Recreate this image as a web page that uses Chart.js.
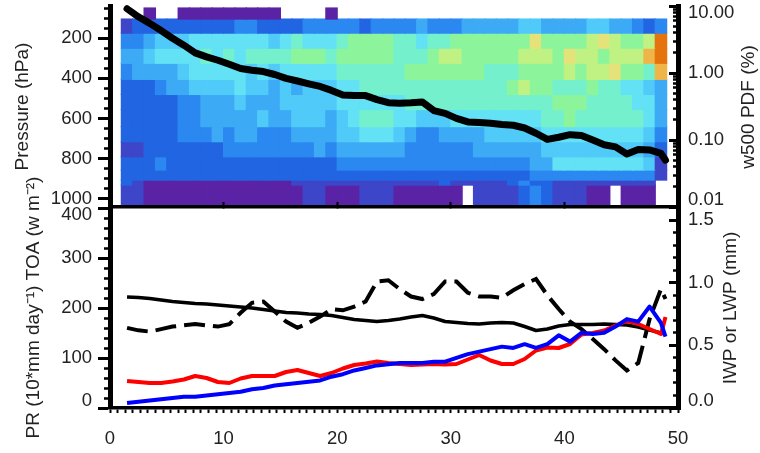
<!DOCTYPE html>
<html>
<head>
<meta charset="utf-8">
<script src="https://cdn.jsdelivr.net/npm/chart.js@4"></script>
<style>
html,body{margin:0;padding:0;background:#fff;}
#wrap{position:relative;width:760px;height:453px;background:#fff;}
canvas{position:absolute;left:0;top:0;}
</style>
</head>
<body>
<div id="wrap">
<canvas id="topChart" width="760" height="453"></canvas>
<canvas id="botChart" width="760" height="453"></canvas>
</div>
<script>
// ---------- data ----------
const colCenters = [1.5,2.5,3.5,4.5,5.5,6.5,7.5,8.5,9.5,10.5,11.5,12.5,13.5,14.5,15.5,16.5,17.5,18.5,19.5,20.5,21.5,22.5,23.5,24.5,25.5,26.5,27.5,28.5,29.5,30.5,31.5,32.5,33.5,34.5,35.5,36.5,37.5,38.5,39.5,40.5,41.5,42.5,43.5,44.5,45.5,46.5,47.5,48.5];
const pressureEdges = [50,105,175,250,325,405,480,555,640,715,790,856,906,931,1035];
// colour class of each cell (one string per pressure layer, one char per column; '.' = no data)
const heatRows = [
  "..0..000000000....0...." + ".........................",
  "12222222223322223333323" + "3334333444445544445544323",
  "33455566666665676667888" + "8776778888888A88889A9889C",
  "44566667676777788878888" + "8777899888889998A998999BC",
  "34444566666565666667777" + "77888888877788889899A887B",
  "22234455556554545556677" + "7777777777789887778776654",
  "22222334445444555556666" + "6677777777777778887777664",
  "22222334444454455545677" + "7665556666666677877777764",
  "22222333434433344445566" + "6543344445555566666666653",
  "11222222233333333434444" + "4433333344444455555555542",
  "22232222222222222223333" + "3333333333333446666666651",
  "22222222222222222222222" + "2222222222222333333333331",
  "21000000000000011111111" + "111112111112322111111111.",
  "11000000000000001100011" + "1000000.111123211100.000."
];
const lineX = [1.5,2.5,3.5,4.5,5.5,6.5,7.5,8.5,9.5,10.5,11.5,12.5,13.5,14.5,15.5,16.5,17.5,18.5,19.5,20.5,21.5,22.5,23.5,24.5,25.5,26.5,27.5,28.5,29.5,30.5,31.5,32.5,33.5,34.5,35.5,36.5,37.5,38.5,39.5,40.5,41.5,42.5,43.5,44.5,45.5,46.5,47.5,48.5,48.9];
const w500Pdf = [9.1,6.9,5.5,4.3,3.3,2.6,2.0,1.74,1.55,1.35,1.17,1.10,1.05,0.95,0.83,0.76,0.69,0.63,0.55,0.47,0.46,0.46,0.40,0.36,0.355,0.36,0.37,0.275,0.25,0.21,0.186,0.182,0.178,0.170,0.166,0.151,0.126,0.102,0.11,0.12,0.117,0.10,0.085,0.079,0.062,0.072,0.071,0.063,0.05];
const toaFlux = [222,221,219,216,213,211,209,208,206,204,202,200,197,194,191,190,188,187,185,181,177,175,173,175,178,182,185,180,173,171,169,168,170,171,170,163,155,158,164,167,167,167,168,167,166,162,156,150,148];
const lwpMm = [0.64,0.62,0.61,0.63,0.65,0.66,0.67,0.66,0.65,0.67,0.76,0.84,0.85,0.77,0.69,0.64,0.68,0.73,0.79,0.78,0.81,0.85,1.01,1.02,0.95,0.89,0.87,0.91,1.01,1.01,0.92,0.89,0.89,0.88,0.94,0.99,1.03,0.90,0.79,0.69,0.63,0.55,0.47,0.38,0.30,0.36,0.71,0.95,0.87];
const precip = [54,52,50,50,53,57,64,60,52,50,59,64,64,64,72,76,70,64,70,79,86,89,93,90,88,86,87,88,87,88,97,106,95,88,88,98,115,121,120,128,147,150,155,165,174,168,158,148,182];
const iwpMm = [0.04,0.05,0.06,0.07,0.08,0.09,0.09,0.10,0.11,0.12,0.13,0.15,0.16,0.18,0.19,0.20,0.21,0.22,0.25,0.27,0.30,0.32,0.34,0.35,0.36,0.36,0.36,0.37,0.37,0.40,0.43,0.45,0.47,0.49,0.48,0.51,0.48,0.51,0.58,0.53,0.60,0.59,0.60,0.65,0.71,0.69,0.81,0.68,0.57];

const pressureLabels = [200,400,600,800,1000];
const pdfLabels = [0.01,0.1,1,10];
const fluxLabels = [0,100,200,300,400];
const waterPathLabels = [0,0.5,1.0,1.5];
const xLabels = [0,10,20,30,40,50];

const titlePressure = 'Pressure (hPa)';
const titlePdf = 'w500 PDF (%)';
const titleFlux = 'PR (10*mm day\u207B\u00B9) TOA (w m\u207B\u00B2)';
const titleWater = 'IWP or LWP (mm)';

// ---------- styles ----------
const heatPalette = {
  '0':'#5a23a6','1':'#3d46c8','2':'#2265e2','3':'#2b88f0','4':'#3daaf6',
  '5':'#50caf8','6':'#63e1f5','7':'#74f1cc','8':'#8cf59c','9':'#bff283',
  'A':'#e6e27a','B':'#f0b548','C':'#e5740f'
};
const FAM = '"Liberation Sans", Arial, Helvetica, sans-serif';
const TXT = '#222';
const tickFont = {family: FAM, size: 18.5, lineHeight: 0.76};
const titleFont = {family: FAM, size: 19};
Chart.defaults.font.family = FAM;

const near = (a, b) => Math.abs(a - b) < 1e-6;
const inList = (v, list) => list.some(l => near(v, l));
const tv = ctx => (ctx && ctx.tick) ? ctx.tick.value : NaN;
const noPad = s => { s.paddingTop = 0; s.paddingBottom = 0; s.paddingLeft = 0; s.paddingRight = 0; };

function sideTitle(id, text, x, y) {
  return {
    id,
    afterDraw(chart) {
      const c = chart.ctx;
      c.save();
      c.translate(x, y);
      c.rotate(-Math.PI / 2);
      c.font = titleFont.size + 'px ' + FAM;
      c.fillStyle = TXT;
      c.textAlign = 'center';
      c.textBaseline = 'middle';
      c.fillText(text, 0, 0);
      c.restore();
    }
  };
}

// ---------- top panel ----------
const heatDatasets = heatRows.map((row, r) => {
  const data = [], colors = [];
  for (let c = 0; c < colCenters.length; c++) {
    const k = row[c];
    if (!k || k === '.') continue;
    data.push({x: colCenters[c], y: [pressureEdges[r], pressureEdges[r + 1]]});
    colors.push(heatPalette[k]);
  }
  return {
    type: 'bar', data, backgroundColor: colors, borderWidth: 0,
    xAxisID: 'x', yAxisID: 'yP', grouped: false,
    barPercentage: 1, categoryPercentage: 1, inflateAmount: 0.6, order: 2
  };
});

const pdfDataset = {
  type: 'line',
  data: lineX.map((x, i) => ({x, y: w500Pdf[i]})),
  xAxisID: 'x', yAxisID: 'yPdf',
  borderColor: '#000', borderWidth: 7, pointRadius: 0, tension: 0,
  borderJoinStyle: 'round', borderCapStyle: 'round', clip: false, order: 0
};

new Chart(document.getElementById('topChart'), {
  type: 'bar',
  data: {datasets: [...heatDatasets, pdfDataset]},
  options: {
    responsive: false, animation: false, events: [],
    layout: {padding: {top: 6, bottom: 246, left: 0, right: 0}},
    plugins: {legend: {display: false}, tooltip: {enabled: false}},
    scales: {
      x: {
        type: 'linear', min: 0, max: 50, offset: false, position: 'bottom',
        grid: {display: true, offset: false, drawOnChartArea: false, drawTicks: true, tickLength: -5, tickWidth: 2, tickColor: '#000', z: 1},
        border: {display: true, width: 3.5, color: '#000', z: 1},
        ticks: {display: false, autoSkip: false},
        afterBuildTicks: s => { s.ticks = [10, 20, 30, 40].map(v => ({value: v})); },
        afterFit: s => { s.height = 0; noPad(s); }
      },
      yP: {
        type: 'linear', position: 'left', reverse: true, min: 40, max: 1040,
        grid: {drawOnChartArea: false, drawTicks: true, tickLength: 12, tickColor: '#000', z: 1,
          tickWidth: ctx => inList(tv(ctx), pressureLabels) ? 3 : 2.5,
          tickBorderDash: ctx => inList(tv(ctx), pressureLabels) ? [] : [0, 6, 7, 100]},
        border: {display: true, width: 5, color: '#000', z: 1},
        ticks: {autoSkip: false, padding: 6, color: TXT, font: tickFont,
          callback: v => inList(v, pressureLabels) ? String(v) : ''},
        afterBuildTicks: s => { const t = []; for (let p = 50; p <= 1000; p += 50) t.push({value: p}); s.ticks = t; },
        afterFit: s => { s.width = 110; noPad(s); },
        title: {display: true, text: titlePressure, color: TXT, font: titleFont, padding: {top: 11, bottom: 0}}
      },
      yPdf: {
        type: 'logarithmic', position: 'right', min: 0.01, max: 10,
        grid: {drawOnChartArea: false, drawTicks: true, tickLength: -9, tickColor: '#000', z: 1,
          tickWidth: ctx => inList(tv(ctx), pdfLabels) ? 3 : 2.5,
          tickBorderDash: ctx => inList(tv(ctx), pdfLabels) ? [] : [8, 100]},
        border: {display: true, width: 5, color: '#000', z: 1},
        ticks: {autoSkip: false, padding: 19, color: TXT, font: tickFont,
          callback: v => {
            if (!inList(v, pdfLabels)) return '';
            const s = v.toFixed(2);
            if (near(v, 10)) return ['', s];
            if (near(v, 0.01)) return [s, ''];
            return s;
          }},
        afterBuildTicks: s => {
          const t = [];
          [0.01, 0.1, 1].forEach(d => { for (let m = 1; m <= 9; m++) t.push({value: Number((m * d).toPrecision(3))}); });
          t.push({value: 10});
          s.ticks = t;
        },
        afterFit: s => { s.width = 82; noPad(s); }
      }
    }
  },
  plugins: [sideTitle('pdfTitle', titlePdf, 749, 107)]
});

// ---------- bottom panel ----------
const mk = (arr) => lineX.map((x, i) => ({x, y: arr[i]}));

new Chart(document.getElementById('botChart'), {
  type: 'line',
  data: {datasets: [
    {data: mk(lwpMm), yAxisID: 'yR', borderColor: '#000', borderWidth: 4, borderDash: [21, 8], pointRadius: 0, tension: 0, order: 4},
    {data: mk(toaFlux), yAxisID: 'yL', borderColor: '#000', borderWidth: 3.5, pointRadius: 0, tension: 0, borderJoinStyle: 'round', order: 3},
    {data: mk(precip), yAxisID: 'yL', borderColor: '#ff0000', borderWidth: 4, pointRadius: 0, tension: 0, borderJoinStyle: 'round', order: 2},
    {data: mk(iwpMm), yAxisID: 'yR', borderColor: '#0000ff', borderWidth: 4, pointRadius: 0, tension: 0, borderJoinStyle: 'round', order: 1}
  ]},
  options: {
    responsive: false, animation: false, events: [],
    layout: {padding: {top: 207, bottom: 0, left: 0, right: 0}},
    plugins: {legend: {display: false}, tooltip: {enabled: false}},
    scales: {
      x: {
        type: 'linear', min: 0, max: 50, offset: false, position: 'bottom',
        grid: {drawOnChartArea: false, drawTicks: true, tickLength: 5, tickWidth: 2, tickColor: '#000', z: 1},
        border: {display: true, width: 3.5, color: '#000', z: 1},
        ticks: {autoSkip: false, maxRotation: 0, minRotation: 0, padding: 19, color: TXT, font: tickFont,
          callback: v => inList(v, xLabels) ? String(Math.round(v)) : ''},
        afterBuildTicks: s => { const t = []; for (let i = 0; i <= 75; i++) t.push({value: i * 10 / 15}); s.ticks = t; },
        afterFit: s => { s.height = 45; noPad(s); }
      },
      yL: {
        type: 'linear', position: 'left', min: 0, max: 402,
        grid: {drawOnChartArea: false, drawTicks: true, tickLength: 12, tickColor: '#000', z: 1,
          tickWidth: ctx => inList(tv(ctx), fluxLabels) ? 3 : 2.5,
          tickBorderDash: ctx => inList(tv(ctx), fluxLabels) ? [] : [0, 6, 7, 100]},
        border: {display: true, width: 5, color: '#000', z: 1},
        ticks: {autoSkip: false, padding: 6, color: TXT, font: tickFont,
          callback: v => {
            if (!inList(v, fluxLabels)) return '';
            if (near(v, 400)) return ['', '400'];
            if (near(v, 0)) return ['0', ''];
            return String(v);
          }},
        afterBuildTicks: s => { const t = []; for (let v = 0; v <= 400; v += 20) t.push({value: v}); s.ticks = t; },
        afterFit: s => { s.width = 110; noPad(s); },
        title: {display: true, text: titleFlux, color: TXT, font: titleFont, padding: {top: 22, bottom: 0}}
      },
      yR: {
        type: 'linear', position: 'right', min: 0, max: 1.605,
        grid: {drawOnChartArea: false, drawTicks: true, tickLength: -9, tickColor: '#000', z: 1,
          tickWidth: ctx => inList(tv(ctx), waterPathLabels) ? 3 : 2.5,
          tickBorderDash: ctx => inList(tv(ctx), waterPathLabels) ? [] : [8, 100]},
        border: {display: true, width: 5, color: '#000', z: 1},
        ticks: {autoSkip: false, padding: 19, color: TXT, font: tickFont,
          callback: v => {
            if (!inList(v, waterPathLabels)) return '';
            const s = v.toFixed(1);
            if (near(v, 0)) return [s, ''];
            return s;
          }},
        afterBuildTicks: s => { const t = []; for (let i = 0; i <= 16; i++) t.push({value: i / 10}); s.ticks = t; },
        afterFit: s => { s.width = 82; noPad(s); }
      }
    }
  },
  plugins: [sideTitle('waterTitle', titleWater, 731, 308)]
});
</script>
</body>
</html>
